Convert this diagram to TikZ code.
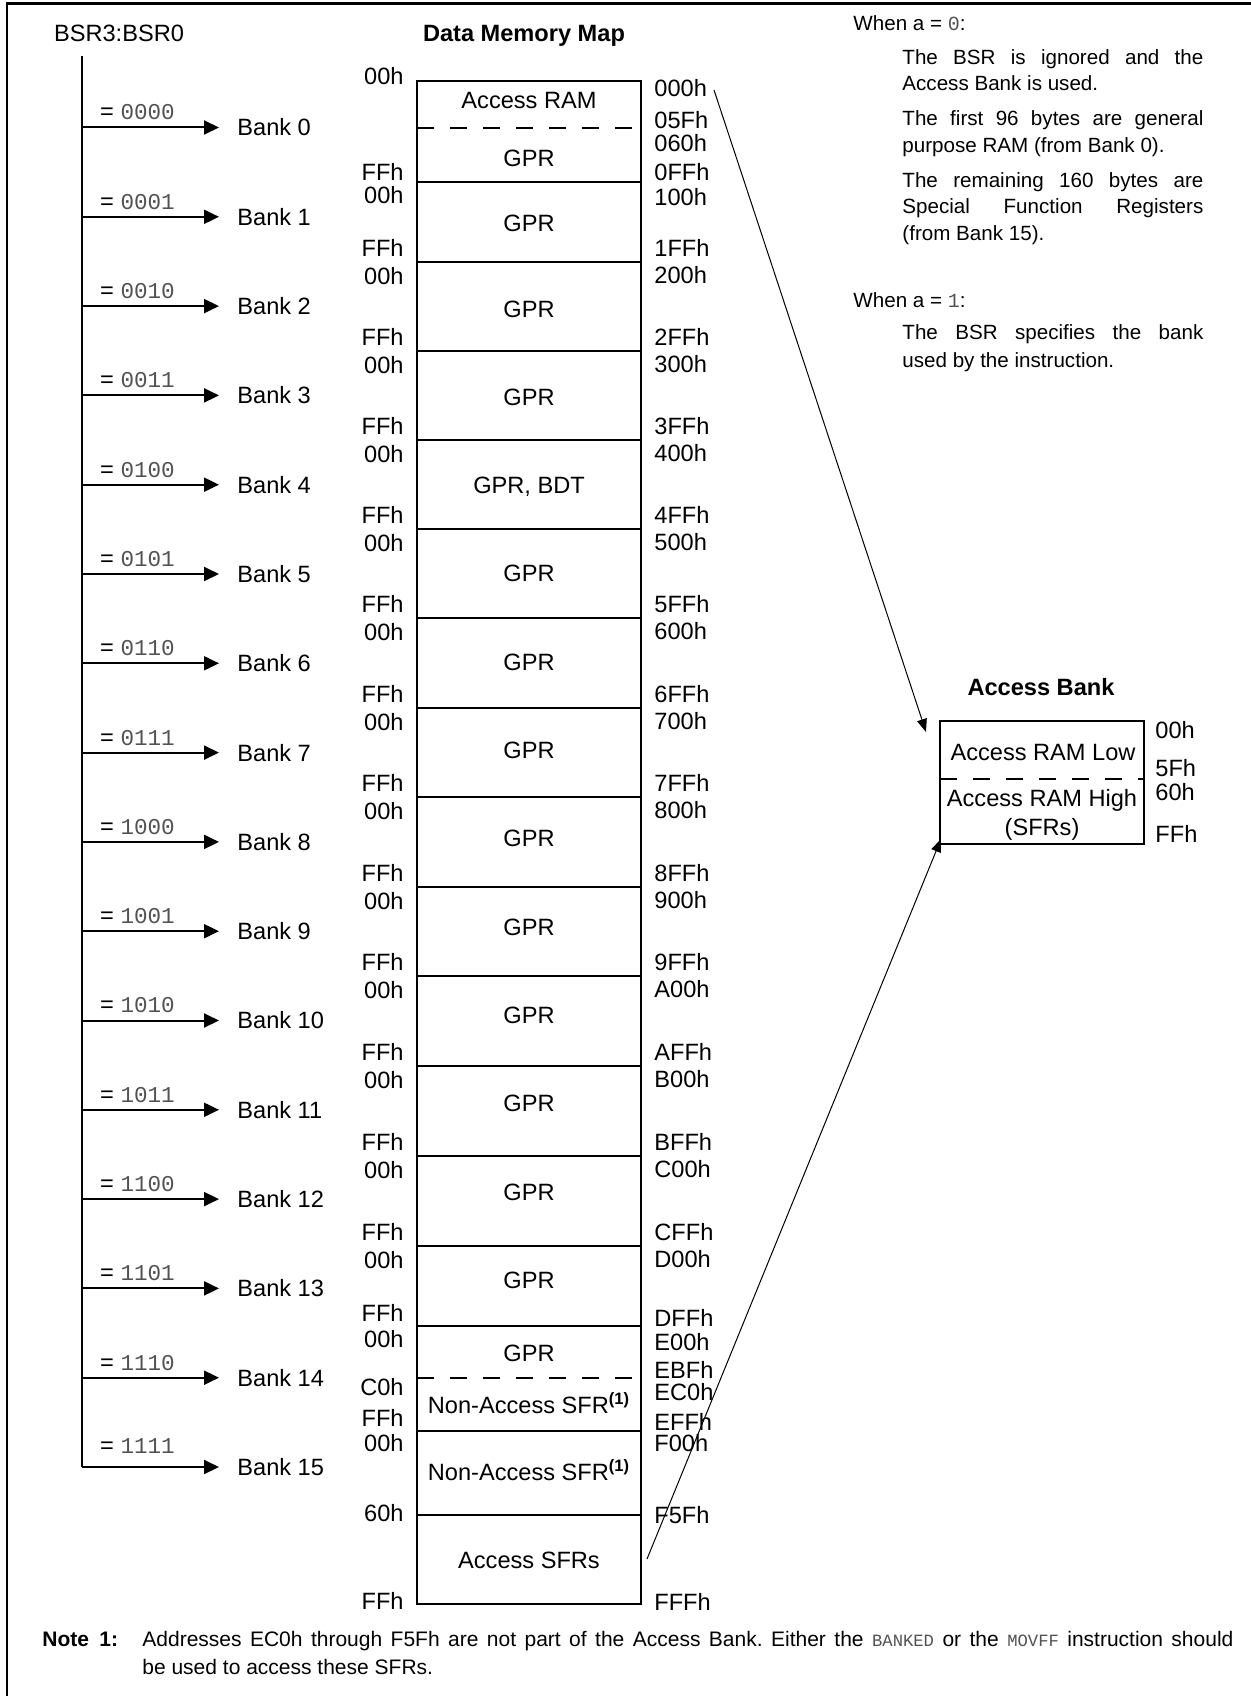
\documentclass[tikz,border=0pt]{standalone}
\usepackage{fontspec}
\setmainfont{Liberation Sans}
\setmonofont{Liberation Mono}
\usetikzlibrary{arrows.meta}
\frenchspacing
\colorlet{monogray}{black!68}
\newcommand\msz{\fontsize{11.8pt}{14pt}\selectfont}
\newcommand\psz{\fontsize{10.3pt}{13pt}\selectfont}
\newcommand\nsz{\fontsize{10.5pt}{13pt}\selectfont}
\newcommand\pmono[1]{{\fontsize{10pt}{12pt}\ttfamily\color{monogray}#1}}
\newcommand\nmono[1]{{\fontsize{8.6pt}{10pt}\ttfamily\color{monogray}#1}}
\newcommand\bmono[1]{{\fontsize{11.3pt}{13pt}\ttfamily\color{monogray}#1}}
\newcommand\sfr{Non-Access SFR\textsuperscript{\bfseries(1)}}
\begin{document}
\begin{tikzpicture}[x=0.5pt,y=-0.5pt,
  L/.style={inner sep=0pt, font=\msz, anchor=base east, yshift=-4.2pt},
  R/.style={inner sep=0pt, font=\msz, anchor=base west, yshift=-4.2pt},
  C/.style={inner sep=0pt, font=\msz, anchor=base, yshift=-4.2pt},
  P/.style={inner sep=0pt, font=\psz, anchor=base west, yshift=-3.7pt},
  N/.style={inner sep=0pt, font=\nsz, anchor=base west, yshift=-3.8pt},
  memline/.style={line width=1pt},
  memdash/.style={line width=1pt, dash pattern=on 8.5pt off 8pt},
  bankarr/.style={line width=1pt, -{Triangle[length=7.5pt,width=7pt]}},
  diagarr/.style={line width=0.5pt, -{Triangle[length=6.5pt,width=5pt]}}]
\useasboundingbox (0,0) rectangle (1251,1696);
% frame (cropped on right and bottom)
\draw[line width=1.4pt] (7,1696) -- (7,3.5) -- (1251,3.5);

% titles
\node[C] (tbsr) at (119,33.5) {BSR3:BSR0};
\node[C, font=\msz\bfseries] (tmap) at (524,33) {Data Memory Map};

% BSR bus and bank arrows
\coordinate (bustop) at (82,56);
\foreach \k/\bits in {0/0000,1/0001,2/0010,3/0011,4/0100,5/0101,6/0110,7/0111,
                      8/1000,9/1001,10/1010,11/1011,12/1100,13/1101,14/1110,15/1111} {
  \pgfmathsetmacro\yy{127.5+\k*89.3}
  \pgfmathsetmacro\ly{\k==15 ? \yy-22 : \yy-16}
  \coordinate (s\k) at (82,\yy);
  \node[R] (b\k) at (237,\yy) {Bank \k};
  \node[C] (v\k) at (137.5,\ly) {= \bmono{\bits}};
  \draw[bankarr, shorten >=9pt] (s\k) -- (b\k.west |- s\k);
}
\draw[memline] (bustop) -- (s15);

% memory map
\draw[memline] (417,81) rectangle (641,1604);
\foreach \y in {182,262,351,440,529,618,708,797,887,976,1066,1156,1246,1326,1431,1515}
  \draw[memline] (417,\y) -- (641,\y);
\draw[memdash] (417,128) -- (641,128);
\draw[memdash] (417,1378) -- (641,1378);

\node[C] (c0a) at (529,100) {Access RAM};
\node[C] (c0b) at (529,158) {GPR};
\node[C] (c1) at (529,223) {GPR};
\foreach \k in {2,3,5,6,7,8,9,10,11,12,13} {
  \pgfmathsetmacro\yy{308.6+(\k-2)*88.3}
  \node[C] (c\k) at (529,\yy) {GPR};
}
\node[C] (c4) at (529,485) {GPR, BDT};
\node[C] (c14a) at (529,1353) {GPR};
\node[C] (c14b) at (529,1405) {\sfr};
\node[C] (c15a) at (529,1472) {\sfr};
\node[C] (c15b) at (529,1560) {Access SFRs};

% left offsets
\node[L] (l0) at (404,76) {00h};
\node[L] (l0f) at (404,172) {FFh};
\node[L] (l1) at (404,195) {00h};
\foreach \b [count=\i] in {262,351,440,529,618,708,797,887,976,1066,1156,1246} {
  \node[L] (lf\i) at (404,\b-14) {FFh};
  \node[L] (lo\i) at (404,\b+14) {00h};
}
\node[L] (l13f) at (404,1313) {FFh};
\node[L] (l14) at (404,1339) {00h};
\node[L] (l14c) at (404,1387) {C0h};
\node[L] (l14f) at (404,1418) {FFh};
\node[L] (l15) at (404,1443) {00h};
\node[L] (l15s) at (404,1513) {60h};
\node[L] (l15f) at (404,1601) {FFh};

% right addresses
\node[R] (r0) at (654,88) {000h};
\node[R] (r05f) at (654,120) {05Fh};
\node[R] (r060) at (654,143) {060h};
\node[R] (r0ff) at (654,172) {0FFh};
\node[R] (r100) at (654,197) {100h};
\foreach \b/\p/\q [count=\i] in {262/1/2,351/2/3,440/3/4,529/4/5,618/5/6,708/6/7,797/7/8,887/8/9,976/9/A,1066/A/B,1156/B/C,1246/C/D} {
  \node[R] (rf\i) at (654,\b-13.5) {\p FFh};
  \node[R] (ro\i) at (654,\b+13.5) {\q 00h};
}
\node[R] (rdff) at (654,1318) {DFFh};
\node[R] (re00) at (654,1342) {E00h};
\node[R] (rebf) at (654,1370) {EBFh};
\node[R] (rec0) at (654,1392) {EC0h};
\node[R] (reff) at (654,1422) {EFFh};
\node[R] (rf00) at (654,1443) {F00h};
\node[R] (rf5f) at (654,1515) {F5Fh};
\node[R] (rfff) at (654,1602) {FFFh};

% access bank
\node[C, font=\msz\bfseries] (tab) at (1041,687) {Access Bank};
\node[draw, line width=1pt, minimum width=102pt, minimum height=61.5pt, inner sep=0pt] (ab) at (1042,782.5) {};
\draw[memdash] (940,779) -- (1144,779);
\node[C] (abl) at (1043,752) {Access RAM Low};
\node[C] (abh) at (1042,798) {Access RAM High};
\node[C] (abs) at (1042,827) {(SFRs)};
\node[R] (a00) at (1155,730) {00h};
\node[R] (a5f) at (1155,768) {5Fh};
\node[R] (a60) at (1155,792) {60h};
\node[R] (aff) at (1155,834) {FFh};

% mapping arrows
\coordinate (m0) at (714,90);
\coordinate (m1) at (647,1559);
\draw[diagarr] (m0) -- ([xshift=-6.5pt,yshift=-6pt]ab.north west);
\draw[diagarr] (m1) -- ([xshift=1pt,yshift=3pt]ab.south west);

% explanation text
\def\pw{150.5pt}
\node[P] (w0) at (853,23) {When a = \pmono{0}:};
\node[P] (p1) at (902,57) {\makebox[\pw][s]{The BSR is ignored and the}};
\node[P] (p2) at (902,83) {Access Bank is used.};
\node[P] (p3) at (902,118) {\makebox[\pw][s]{The first 96 bytes are general}};
\node[P] (p4) at (902,145) {purpose RAM (from Bank 0).};
\node[P] (p5) at (902,180) {\makebox[\pw][s]{The remaining 160 bytes are}};
\node[P] (p6) at (902,206) {\makebox[\pw][s]{Special Function Registers}};
\node[P] (p7) at (902,233) {(from Bank 15).};
\node[P] (w1) at (853,300) {When a = \pmono{1}:};
\node[P] (q1) at (902,332) {\makebox[\pw][s]{The BSR specifies the bank}};
\node[P] (q2) at (902,360) {used by the instruction.};

% note
\node[N, font=\nsz\bfseries] (nt) at (42,1639) {Note};
\node[N, font=\nsz\bfseries] (n1) at (99,1639) {1:};
\node[N] (nl1) at (142,1639) {\makebox[545.5pt][s]{Addresses EC0h through F5Fh are not part of the Access Bank. Either the \nmono{BANKED} or the \nmono{MOVFF} instruction should}};
\node[N] (nl2) at (142,1667) {be used to access these SFRs.};
\end{tikzpicture}
\end{document}
